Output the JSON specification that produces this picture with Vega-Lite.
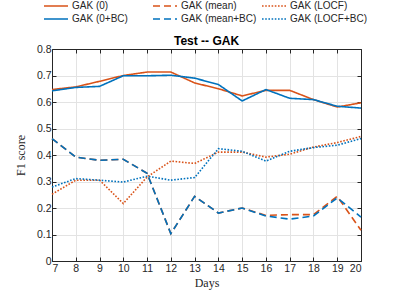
{
  "$schema": "https://vega.github.io/schema/vega-lite/v6.json",
  "width": 309,
  "height": 212,
  "autosize": {"type": "none"},
  "padding": {"left": 52, "top": 49, "right": 38, "bottom": 36},
  "background": "white",
  "config": {
    "view": {"stroke": "#262626", "strokeWidth": 1},
    "font": "Liberation Sans"
  },
  "title": {"text": "Test -- GAK", "fontSize": 12, "fontWeight": "bold", "color": "#000000", "font": "Liberation Sans", "orient": "bottom", "anchor": "middle", "frame": "group", "baseline": "alphabetic", "dy": -248},
  "data": {
    "values": [
      {"day": 7, "series": "GAK (0)", "value": 0.647},
      {"day": 8, "series": "GAK (0)", "value": 0.657},
      {"day": 9, "series": "GAK (0)", "value": 0.678},
      {"day": 10, "series": "GAK (0)", "value": 0.700},
      {"day": 11, "series": "GAK (0)", "value": 0.713},
      {"day": 12, "series": "GAK (0)", "value": 0.713},
      {"day": 13, "series": "GAK (0)", "value": 0.672},
      {"day": 14, "series": "GAK (0)", "value": 0.650},
      {"day": 15, "series": "GAK (0)", "value": 0.623},
      {"day": 16, "series": "GAK (0)", "value": 0.644},
      {"day": 17, "series": "GAK (0)", "value": 0.644},
      {"day": 18, "series": "GAK (0)", "value": 0.609},
      {"day": 19, "series": "GAK (0)", "value": 0.581},
      {"day": 20, "series": "GAK (0)", "value": 0.597},

      {"day": 7, "series": "GAK (mean)", "value": 0.462},
      {"day": 8, "series": "GAK (mean)", "value": 0.392},
      {"day": 9, "series": "GAK (mean)", "value": 0.380},
      {"day": 10, "series": "GAK (mean)", "value": 0.384},
      {"day": 11, "series": "GAK (mean)", "value": 0.331},
      {"day": 12, "series": "GAK (mean)", "value": 0.103},
      {"day": 13, "series": "GAK (mean)", "value": 0.244},
      {"day": 14, "series": "GAK (mean)", "value": 0.181},
      {"day": 15, "series": "GAK (mean)", "value": 0.200},
      {"day": 16, "series": "GAK (mean)", "value": 0.172},
      {"day": 17, "series": "GAK (mean)", "value": 0.175},
      {"day": 18, "series": "GAK (mean)", "value": 0.175},
      {"day": 19, "series": "GAK (mean)", "value": 0.244},
      {"day": 20, "series": "GAK (mean)", "value": 0.116},

      {"day": 7, "series": "GAK (LOCF)", "value": 0.252},
      {"day": 8, "series": "GAK (LOCF)", "value": 0.305},
      {"day": 9, "series": "GAK (LOCF)", "value": 0.305},
      {"day": 10, "series": "GAK (LOCF)", "value": 0.217},
      {"day": 11, "series": "GAK (LOCF)", "value": 0.317},
      {"day": 12, "series": "GAK (LOCF)", "value": 0.377},
      {"day": 13, "series": "GAK (LOCF)", "value": 0.368},
      {"day": 14, "series": "GAK (LOCF)", "value": 0.411},
      {"day": 15, "series": "GAK (LOCF)", "value": 0.411},
      {"day": 16, "series": "GAK (LOCF)", "value": 0.392},
      {"day": 17, "series": "GAK (LOCF)", "value": 0.403},
      {"day": 18, "series": "GAK (LOCF)", "value": 0.430},
      {"day": 19, "series": "GAK (LOCF)", "value": 0.447},
      {"day": 20, "series": "GAK (LOCF)", "value": 0.470},

      {"day": 7, "series": "GAK (0+BC)", "value": 0.642},
      {"day": 8, "series": "GAK (0+BC)", "value": 0.655},
      {"day": 9, "series": "GAK (0+BC)", "value": 0.659},
      {"day": 10, "series": "GAK (0+BC)", "value": 0.699},
      {"day": 11, "series": "GAK (0+BC)", "value": 0.699},
      {"day": 12, "series": "GAK (0+BC)", "value": 0.701},
      {"day": 13, "series": "GAK (0+BC)", "value": 0.690},
      {"day": 14, "series": "GAK (0+BC)", "value": 0.666},
      {"day": 15, "series": "GAK (0+BC)", "value": 0.604},
      {"day": 16, "series": "GAK (0+BC)", "value": 0.647},
      {"day": 17, "series": "GAK (0+BC)", "value": 0.614},
      {"day": 18, "series": "GAK (0+BC)", "value": 0.609},
      {"day": 19, "series": "GAK (0+BC)", "value": 0.584},
      {"day": 20, "series": "GAK (0+BC)", "value": 0.577},

      {"day": 7, "series": "GAK (mean+BC)", "value": 0.462},
      {"day": 8, "series": "GAK (mean+BC)", "value": 0.392},
      {"day": 9, "series": "GAK (mean+BC)", "value": 0.380},
      {"day": 10, "series": "GAK (mean+BC)", "value": 0.384},
      {"day": 11, "series": "GAK (mean+BC)", "value": 0.331},
      {"day": 12, "series": "GAK (mean+BC)", "value": 0.103},
      {"day": 13, "series": "GAK (mean+BC)", "value": 0.244},
      {"day": 14, "series": "GAK (mean+BC)", "value": 0.181},
      {"day": 15, "series": "GAK (mean+BC)", "value": 0.200},
      {"day": 16, "series": "GAK (mean+BC)", "value": 0.170},
      {"day": 17, "series": "GAK (mean+BC)", "value": 0.158},
      {"day": 18, "series": "GAK (mean+BC)", "value": 0.170},
      {"day": 19, "series": "GAK (mean+BC)", "value": 0.238},
      {"day": 20, "series": "GAK (mean+BC)", "value": 0.166},

      {"day": 7, "series": "GAK (LOCF+BC)", "value": 0.279},
      {"day": 8, "series": "GAK (LOCF+BC)", "value": 0.311},
      {"day": 9, "series": "GAK (LOCF+BC)", "value": 0.305},
      {"day": 10, "series": "GAK (LOCF+BC)", "value": 0.298},
      {"day": 11, "series": "GAK (LOCF+BC)", "value": 0.320},
      {"day": 12, "series": "GAK (LOCF+BC)", "value": 0.305},
      {"day": 13, "series": "GAK (LOCF+BC)", "value": 0.315},
      {"day": 14, "series": "GAK (LOCF+BC)", "value": 0.424},
      {"day": 15, "series": "GAK (LOCF+BC)", "value": 0.414},
      {"day": 16, "series": "GAK (LOCF+BC)", "value": 0.377},
      {"day": 17, "series": "GAK (LOCF+BC)", "value": 0.414},
      {"day": 18, "series": "GAK (LOCF+BC)", "value": 0.428},
      {"day": 19, "series": "GAK (LOCF+BC)", "value": 0.437},
      {"day": 20, "series": "GAK (LOCF+BC)", "value": 0.462}
    ]
  },
  "layer": [
    {
      "mark": {"type": "line", "strokeWidth": 1.6},
      "encoding": {
        "x": {
          "field": "day", "type": "quantitative",
          "scale": {"domain": [7, 20], "nice": false, "zero": false},
          "axis": {
            "title": "Days", "titleFont": "Liberation Serif", "titleFontSize": 12, "titleFontWeight": "normal", "titleColor": "#262626", "titlePadding": 4,
            "values": [7, 8, 9, 10, 11, 12, 13, 14, 15, 16, 17, 18, 19, 20],
            "labelFontSize": 10.5, "labelColor": "#262626", "labelPadding": 6,
            "tickSize": -4, "tickColor": "#262626",
            "domainColor": "#262626", "domainWidth": 1,
            "grid": true, "gridColor": "#e3e3e3", "gridWidth": 1
          }
        },
        "y": {
          "field": "value", "type": "quantitative",
          "scale": {"domain": [0, 0.8], "nice": false},
          "axis": {
            "title": "F1 score", "titleFont": "Liberation Serif", "titleFontSize": 12, "titleFontWeight": "normal", "titleColor": "#262626", "titlePadding": 9,
            "values": [0, 0.1, 0.2, 0.3, 0.4, 0.5, 0.6, 0.7, 0.8], "format": ".1~f",
            "labelFontSize": 10.5, "labelColor": "#262626", "labelPadding": 5,
            "tickSize": -4, "tickColor": "#262626",
            "domainColor": "#262626", "domainWidth": 1,
            "grid": true, "gridColor": "#e3e3e3", "gridWidth": 1
          }
        },
        "color": {
          "field": "series", "type": "nominal",
          "scale": {
            "domain": ["GAK (0)", "GAK (mean)", "GAK (LOCF)", "GAK (0+BC)", "GAK (mean+BC)", "GAK (LOCF+BC)"],
            "range": ["#D95319", "#D95319", "#D95319", "#0072BD", "#0072BD", "#0072BD"]
          },
          "legend": {
            "title": null, "orient": "none", "legendX": -2, "legendY": -49,
            "columns": 3, "direction": "horizontal", "gridAlign": "all", "columnPadding": 0, "rowPadding": 2,
            "symbolType": "M-2.4,0H2.4", "symbolSize": 100, "symbolStrokeWidth": 1.6,
            "labelFontSize": 10, "labelColor": "#262626", "labelOffset": 10, "labelLimit": 200
          }
        },
        "strokeDash": {
          "field": "series", "type": "nominal",
          "scale": {
            "domain": ["GAK (0)", "GAK (mean)", "GAK (LOCF)", "GAK (0+BC)", "GAK (mean+BC)", "GAK (LOCF+BC)"],
            "range": [[1, 0], [7, 4], [1.6, 1.6], [1, 0], [7, 4], [1.6, 1.6]]
          },
          "legend": {
            "title": null, "orient": "none", "legendX": -2, "legendY": -49,
            "columns": 3, "direction": "horizontal", "gridAlign": "all", "columnPadding": 0, "rowPadding": 2,
            "symbolType": "M-2.4,0H2.4", "symbolSize": 100, "symbolStrokeWidth": 1.6,
            "labelFontSize": 10, "labelColor": "#262626", "labelOffset": 10, "labelLimit": 200
          }
        }
      }
    },
    {
      "mark": {"type": "point", "opacity": 0},
      "encoding": {
        "x": {
          "field": "day", "type": "quantitative",
          "axis": {"orient": "top", "title": null, "labels": false, "values": [7, 8, 9, 10, 11, 12, 13, 14, 15, 16, 17, 18, 19, 20], "tickSize": -4, "tickColor": "#262626", "domainColor": "#262626", "grid": false}
        },
        "y": {
          "field": "value", "type": "quantitative",
          "axis": {"orient": "right", "title": null, "labels": false, "values": [0, 0.1, 0.2, 0.3, 0.4, 0.5, 0.6, 0.7, 0.8], "tickSize": -4, "tickColor": "#262626", "domainColor": "#262626", "grid": false}
        }
      }
    }
  ],
  "resolve": {"axis": {"x": "independent", "y": "independent"}}
}
